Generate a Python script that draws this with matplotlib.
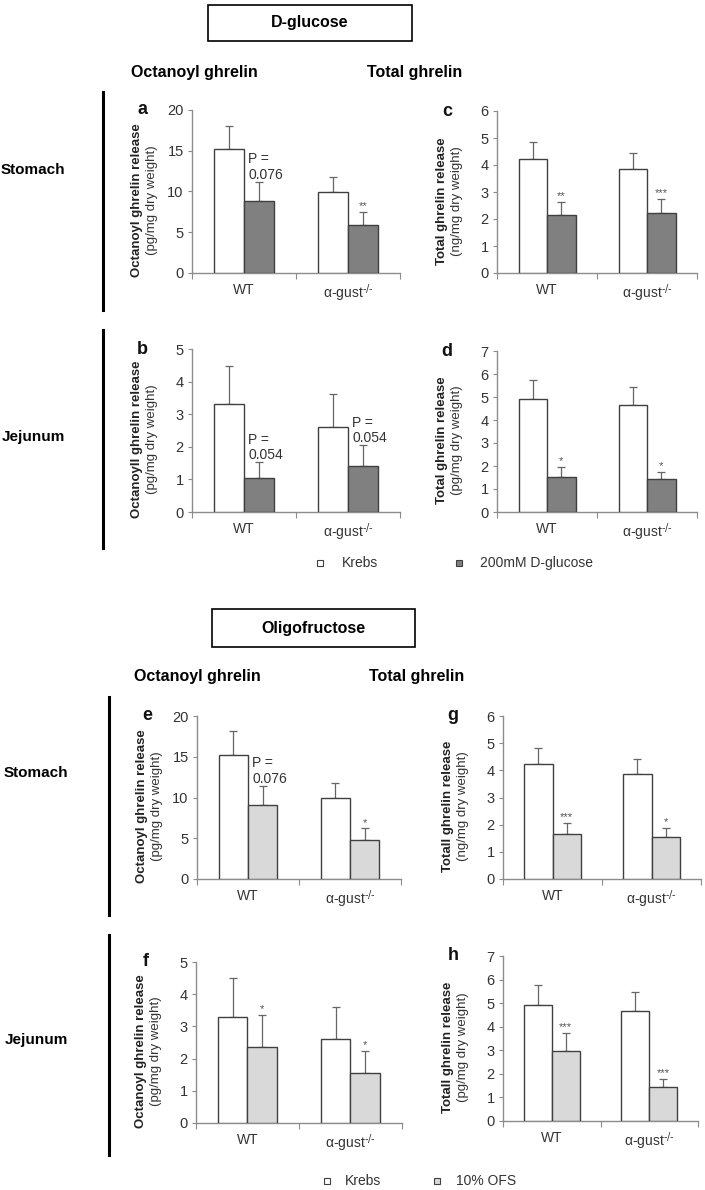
import matplotlib
matplotlib.use('Agg')
import matplotlib.pyplot as plt
from matplotlib.patches import Rectangle
from matplotlib.lines import Line2D

plt.rcParams['font.family'] = ['Liberation Sans', 'DejaVu Sans']

W, H = 705, 1190

groups = ['WT', r'α-gust$^{\text{-/-}}$']

# D-glucose experiment
a_krebs = [15.2, 9.95]
a_krebs_err = [2.8, 1.85]
a_glc = [8.8, 5.85]
a_glc_err = [2.4, 1.6]
a_marks = ['P =\n0.076', '**']

c_krebs = [4.21, 3.84]
c_krebs_err = [0.65, 0.62]
c_glc = [2.14, 2.21]
c_glc_err = [0.48, 0.53]
c_marks = ['**', '***']

b_krebs = [3.30, 2.62]
b_krebs_err = [1.19, 0.99]
b_glc = [1.05, 1.42]
b_glc_err = [0.47, 0.63]
b_marks = ['P =\n0.054', 'P =\n0.054']

d_krebs = [4.91, 4.64]
d_krebs_err = [0.81, 0.81]
d_glc = [1.54, 1.42]
d_glc_err = [0.40, 0.32]
d_marks = ['*', '*']

# oligofructose experiment
e_krebs = [15.2, 9.97]
e_krebs_err = [2.9, 1.85]
e_ofs = [9.07, 4.8]
e_ofs_err = [2.35, 1.4]
e_marks = ['P =\n0.076', '*']

g_krebs = [4.22, 3.85]
g_krebs_err = [0.61, 0.57]
g_ofs = [1.65, 1.53]
g_ofs_err = [0.40, 0.35]
g_marks = ['***', '*']

f_krebs = [3.30, 2.61]
f_krebs_err = [1.21, 0.98]
f_ofs = [2.35, 1.54]
f_ofs_err = [1.0, 0.70]
f_marks = ['*', '*']

h_krebs = [4.93, 4.67]
h_krebs_err = [0.83, 0.79]
h_ofs = [2.97, 1.43]
h_ofs_err = [0.75, 0.35]
h_marks = ['***', '***']

DARK = '#808080'
LIGHT = '#d9d9d9'
EDGE = '#404040'
AXC = '#8c8c8c'
TXT = '#333333'


def fx(x):
    return x / W


def fy(y):
    return 1 - y / H


fig = plt.figure(figsize=(W / 100, H / 100), dpi=100)


def panel(box, letter, ylab1, ylab2, ymax, krebs, kerr, treat, terr, tcol, marks):
    left, top, right, bottom = box
    ax = fig.add_axes([fx(left), fy(bottom), fx(right - left), (bottom - top) / H])
    bw = 0.285
    xs = [0.5, 1.5]
    for i in range(2):
        ax.bar(xs[i] - bw / 2, krebs[i], bw, color='white', edgecolor=EDGE, linewidth=1, zorder=3)
        ax.bar(xs[i] + bw / 2, treat[i], bw, color=tcol, edgecolor=EDGE, linewidth=1, zorder=3)
        ax.errorbar(xs[i] - bw / 2, krebs[i], yerr=[[0], [kerr[i]]], color='#666666',
                    elinewidth=0.9, capsize=3, capthick=0.9, zorder=2)
        ax.errorbar(xs[i] + bw / 2, treat[i], yerr=[[0], [terr[i]]], color='#666666',
                    elinewidth=0.9, capsize=3, capthick=0.9, zorder=2)
        top_y = treat[i] + terr[i]
        if marks[i].startswith('P'):
            ax.text(xs[i] + 0.04, top_y, marks[i], ha='left', va='bottom',
                    fontsize=10, color=TXT, linespacing=1.15)
        else:
            ax.text(xs[i] + bw / 2, top_y + ymax * 0.005, marks[i], ha='center', va='bottom',
                    fontsize=8, color='#555555')
    ax.set_xlim(0, 2)
    ax.set_ylim(0, ymax)
    ax.set_xticks([0, 1, 2])
    ax.set_xticklabels([])
    ax.set_xticks(xs, minor=True)
    ax.set_xticklabels(groups, minor=True, fontsize=10, color=TXT)
    ax.tick_params(axis='x', which='major', length=4, color=AXC, direction='out')
    ax.tick_params(axis='x', which='minor', length=0, pad=7)
    ax.tick_params(axis='y', length=3, color=AXC, labelsize=10.5, labelcolor=TXT, pad=3)
    for s in ['top', 'right']:
        ax.spines[s].set_visible(False)
    for s in ['left', 'bottom']:
        ax.spines[s].set_color(AXC)
        ax.spines[s].set_linewidth(1)
    ymid = (top + bottom) / 2 + 9
    fig.text(fx(left - 55), fy(ymid), ylab1, rotation=90, ha='center', va='center',
             fontsize=9.5, fontweight='bold', color='#222222')
    fig.text(fx(left - 40), fy(ymid), ylab2, rotation=90, ha='center', va='center',
             fontsize=9.5, color=TXT)
    fig.text(fx(left - 50), fy(top), letter, ha='center', va='center',
             fontsize=13, fontweight='bold', color='#111111')
    return ax


# section titles in boxes
for (x0, y0, x1, y1, label) in [(208, 5, 412, 41, 'D-glucose'), (212, 609, 415, 647, 'Oligofructose')]:
    fig.add_artist(Rectangle((fx(x0), fy(y1)), fx(x1 - x0), (y1 - y0) / H,
                             transform=fig.transFigure, facecolor='white',
                             edgecolor='black', linewidth=1.2))
    fig.text(fx((x0 + x1) / 2), fy((y0 + y1) / 2), label, ha='center', va='center',
             fontsize=11.5, fontweight='bold')

for (x, y, label) in [(194, 72, 'Octanoyl ghrelin'), (415, 72, 'Total ghrelin'),
                      (197, 677, 'Octanoyl ghrelin'), (417, 677, 'Total ghrelin')]:
    fig.text(fx(x), fy(y), label, ha='center', va='center', fontsize=11.5,
             fontweight='bold')

for (x, y, label) in [(33, 170, 'Stomach'), (33, 437, 'Jejunum'),
                      (36, 773, 'Stomach'), (36, 1040, 'Jejunum')]:
    fig.text(fx(x), fy(y), label, ha='center', va='center', fontsize=11,
             fontweight='bold')

for (x, y0, y1) in [(103, 92, 310), (103, 330, 548), (109, 697, 915), (109, 935, 1155)]:
    fig.add_artist(Line2D([fx(x), fx(x)], [fy(y0), fy(y1)], transform=fig.transFigure,
                          color='black', linewidth=2.2))

panel((192, 110, 400, 273), 'a', 'Octanoyl ghrelin release', '(pg/mg dry weight)', 20,
      a_krebs, a_krebs_err, a_glc, a_glc_err, DARK, a_marks).set_yticks([0, 5, 10, 15, 20])
panel((497, 111, 697, 273), 'c', 'Total ghrelin release', '(ng/mg dry weight)', 6,
      c_krebs, c_krebs_err, c_glc, c_glc_err, DARK, c_marks).set_yticks(range(7))
panel((192, 349, 400, 512), 'b', 'Octanoyll ghrelin release', '(pg/mg dry weight)', 5,
      b_krebs, b_krebs_err, b_glc, b_glc_err, DARK, b_marks).set_yticks(range(6))
panel((497, 351, 697, 512), 'd', 'Total ghrelin release', '(pg/mg dry weight)', 7,
      d_krebs, d_krebs_err, d_glc, d_glc_err, DARK, d_marks).set_yticks(range(8))

panel((197, 716, 401, 879), 'e', 'Octanoyl ghrelin release', '(pg/mg dry weight)', 20,
      e_krebs, e_krebs_err, e_ofs, e_ofs_err, LIGHT, e_marks).set_yticks([0, 5, 10, 15, 20])
panel((503, 716, 701, 879), 'g', 'Totall ghrelin release', '(ng/mg dry weight)', 6,
      g_krebs, g_krebs_err, g_ofs, g_ofs_err, LIGHT, g_marks).set_yticks(range(7))
panel((196, 962, 402, 1123), 'f', 'Octanoyl ghrelin release', '(pg/mg dry weight)', 5,
      f_krebs, f_krebs_err, f_ofs, f_ofs_err, LIGHT, f_marks).set_yticks(range(6))
panel((503, 956, 698, 1121), 'h', 'Totall ghrelin release', '(pg/mg dry weight)', 7,
      h_krebs, h_krebs_err, h_ofs, h_ofs_err, LIGHT, h_marks).set_yticks(range(8))

# legends
for (mx, my, col, tx, label) in [(320, 563, 'white', 342, 'Krebs'),
                                 (459, 563, DARK, 480, '200mM D-glucose'),
                                 (327, 1181, 'white', 345, 'Krebs'),
                                 (437, 1181, LIGHT, 456, '10% OFS')]:
    fig.add_artist(Rectangle((fx(mx - 3), fy(my + 3)), fx(6), 6 / H, transform=fig.transFigure,
                             facecolor=col, edgecolor=EDGE, linewidth=0.8))
    fig.text(fx(tx), fy(my), label, ha='left', va='center', fontsize=10, color=TXT)

fig.savefig('out.png', dpi=100)
